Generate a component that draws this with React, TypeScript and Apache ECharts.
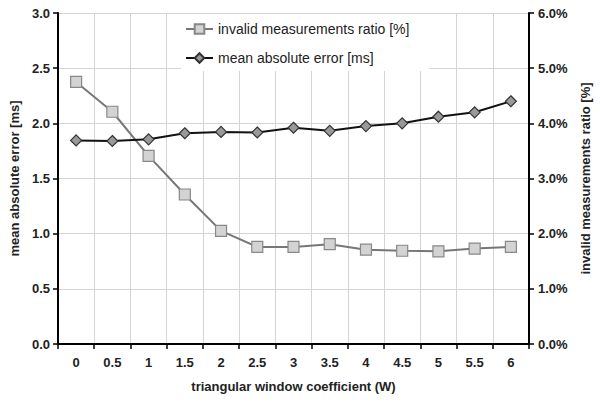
import React, { useEffect, useRef } from "react";
import * as echarts from "echarts";

const categories = ["0", "0.5", "1", "1.5", "2", "2.5", "3", "3.5", "4", "4.5", "5", "5.5", "6"];
const meanAbsError = [1.845, 1.84, 1.855, 1.91, 1.922, 1.917, 1.96, 1.932, 1.975, 2.0, 2.06, 2.1, 2.2];
const invalidRatio = [4.75, 4.21, 3.41, 2.71, 2.05, 1.76, 1.76, 1.81, 1.71, 1.69, 1.68, 1.73, 1.76];

const FONT = "Liberation Sans, Arial, sans-serif";

export default function App() {
  const ref = useRef<HTMLDivElement>(null);
  useEffect(() => {
    if (!ref.current) return;
    const chart = echarts.init(ref.current, null, { renderer: "svg" });
    const labelStyle = { color: "#222", fontWeight: "bold" as const, fontSize: 13, fontFamily: FONT };
    chart.setOption({
      animation: false,
      textStyle: { fontFamily: FONT },
      grid: { left: 58, right: 71, top: 13, bottom: 60, containLabel: false },
      legend: {
        orient: "vertical",
        left: 181,
        top: 14,
        itemWidth: 27,
        itemHeight: 12,
        itemGap: 15,
        padding: [8, 20, 6, 4],
        backgroundColor: "#fff",
        textStyle: { color: "#222", fontSize: 14, fontFamily: FONT },
        data: ["invalid measurements ratio [%]", "mean absolute error [ms]"],
      },
      xAxis: {
        type: "category",
        data: categories,
        boundaryGap: true,
        name: "triangular window coefficient (W)",
        nameLocation: "middle",
        nameGap: 36,
        nameTextStyle: labelStyle,
        axisLine: { lineStyle: { color: "#000", width: 2 } },
        axisTick: { show: true, inside: false, length: 5, lineStyle: { color: "#000", width: 1.5 } },
        axisLabel: { ...labelStyle, margin: 12 },
        splitLine: { show: true, lineStyle: { color: "#d4d4d4", width: 1 } },
      },
      yAxis: [
        {
          type: "value",
          min: 0,
          max: 3,
          interval: 0.5,
          position: "left",
          name: "mean absolute error [ms]",
          nameLocation: "middle",
          nameGap: 34,
          nameTextStyle: labelStyle,
          axisLine: { show: true, lineStyle: { color: "#000", width: 2 } },
          axisTick: { show: true, inside: false, length: 5, lineStyle: { color: "#000", width: 1.5 } },
          axisLabel: { ...labelStyle, margin: 8, formatter: (v: number) => v.toFixed(1) },
          splitLine: { show: true, lineStyle: { color: "#d4d4d4", width: 1 } },
        },
        {
          type: "value",
          min: 0,
          max: 6,
          interval: 1,
          position: "right",
          name: "invalid measurements ratio [%]",
          nameLocation: "middle",
          nameGap: 48,
          nameRotate: 90,
          nameTextStyle: labelStyle,
          axisLine: { show: true, lineStyle: { color: "#000", width: 2 } },
          axisTick: { show: true, inside: false, length: 5, lineStyle: { color: "#000", width: 1.5 } },
          axisLabel: { ...labelStyle, margin: 9, formatter: (v: number) => v.toFixed(1) + "%" },
          splitLine: { show: false },
        },
      ],
      series: [
        {
          name: "invalid measurements ratio [%]",
          type: "line",
          yAxisIndex: 1,
          data: invalidRatio,
          symbol: "rect",
          symbolSize: 11,
          lineStyle: { color: "#777", width: 2 },
          itemStyle: { color: "#d3d3d3", borderColor: "#888", borderWidth: 1.2 },
          z: 2,
        },
        {
          name: "mean absolute error [ms]",
          type: "line",
          yAxisIndex: 0,
          data: meanAbsError,
          symbol: "diamond",
          symbolSize: 11,
          lineStyle: { color: "#111", width: 2 },
          itemStyle: { color: "#999", borderColor: "#333", borderWidth: 1.2 },
          z: 3,
        },
      ],
    });
    return () => chart.dispose();
  }, []);
  return <div ref={ref} style={{ width: 600, height: 404, position: "absolute", left: 0, top: 0 }} />;
}
